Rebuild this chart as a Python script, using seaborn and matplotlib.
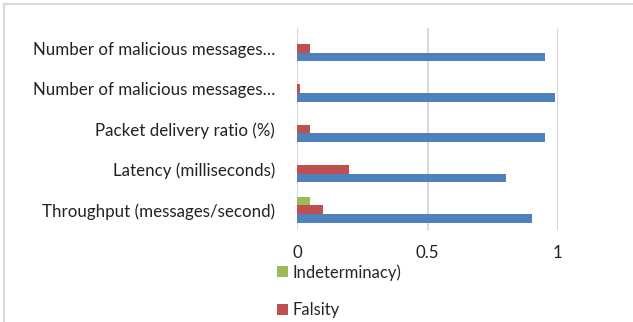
import matplotlib
matplotlib.use("Agg")
import matplotlib.pyplot as plt
import pandas as pd
import seaborn as sns
from matplotlib.patches import Rectangle

metrics = [
    "Number of malicious messages detected",
    "Number of malicious messages blocked",
    "Packet delivery ratio (%)",
    "Latency (milliseconds)",
    "Throughput (messages/second)",
]
tick_labels = [
    "Number of malicious messages…",
    "Number of malicious messages…",
    "Packet delivery ratio (%)",
    "Latency (milliseconds)",
    "Throughput (messages/second)",
]
truth = [0.95, 0.99, 0.95, 0.80, 0.90]
falsity = [0.05, 0.01, 0.05, 0.20, 0.10]
indeterminacy = [0.0, 0.0, 0.0, 0.0, 0.05]

series = ["Indeterminacy)", "Falsity", "Truth"]
colors = ["#9BBB59", "#C0504D", "#4F81BD"]

df = pd.DataFrame({
    "metric": metrics * 3,
    "value": indeterminacy + falsity + truth,
    "series": [series[0]] * 5 + [series[1]] * 5 + [series[2]] * 5,
})

sns.set_style("white")
plt.rcParams["font.family"] = ["Lato", "DejaVu Sans"]

fig = plt.figure(figsize=(6.33, 3.22), dpi=100)
ax = fig.add_axes([297 / 633, 1 - 230 / 322, (558 - 297) / 633, (230 - 28) / 322])

sns.barplot(data=df, x="value", y="metric", hue="series", hue_order=series,
            palette=colors, order=metrics, orient="h", width=0.64,
            saturation=1, linewidth=0, ax=ax)

ax.set_xlim(0, 1)
ax.set_xticks([0, 0.5, 1])
ax.set_xticklabels(["0", "0.5", "1"])
ax.set_yticklabels(tick_labels)
ax.set_xlabel("")
ax.set_ylabel("")
ax.tick_params(axis="both", length=0, labelsize=12.2, colors="#222222")
ax.tick_params(axis="x", pad=11)
ax.tick_params(axis="y", pad=16)
ax.xaxis.grid(True, color="#D9D9D9", linewidth=1.5)
ax.set_axisbelow(True)
for s in ax.spines.values():
    s.set_visible(False)
ax.axvline(0, color="#D9D9D9", linewidth=1.5, zorder=0.5)

# only the first two legend entries fit inside the figure
handles, labels = ax.get_legend_handles_labels()
ax.legend(handles[:2], labels[:2], loc="upper left",
          bbox_to_anchor=(277 / 633, 1 - 264 / 322),
          bbox_transform=fig.transFigure, frameon=False, fontsize=12,
          handlelength=0.65, handleheight=0.65, handletextpad=0.3,
          labelspacing=1.3, borderaxespad=0, borderpad=0)

fig.patches.append(Rectangle((4 / 633, -0.1), 1.1, 1 - 4 / 322 + 0.1,
                             transform=fig.transFigure, fill=False,
                             edgecolor="#D9D9D9", linewidth=1.5))

fig.savefig("out.png", dpi=100)
